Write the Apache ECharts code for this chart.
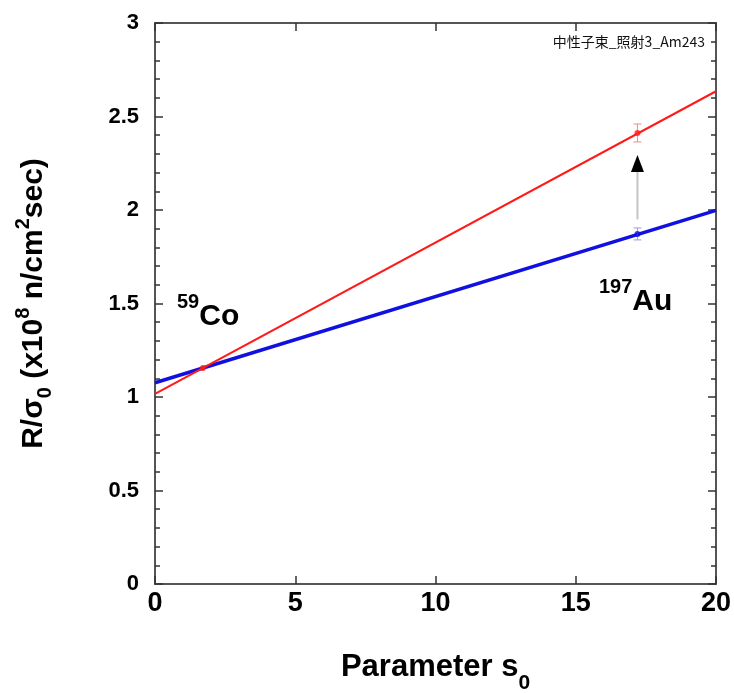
<!DOCTYPE html>
<html><head><meta charset="utf-8">
<script src="https://cdn.jsdelivr.net/npm/echarts@6/dist/echarts.min.js"></script>
<style>html,body{margin:0;padding:0;background:#fff}#c{width:734px;height:693px}</style>
</head><body><div id="c"></div>
<script>
// ---- data ----
const xRange = [0, 20];
const yRange = [0, 3];
const redLineY = [1.017, 2.635];   // red fit line at x=0 and x=20
const blueLineY = [1.076, 1.998];  // blue fit line at x=0 and x=20
const crossPoint = [1.71, 1.155];  // 59Co point
const redPoint = [17.2, 2.412];
const redErr = 0.048;
const bluePoint = [17.2, 1.872];
const blueErr = 0.032;
const arrowX = 17.2;
const arrowFromY = 1.95;
const arrowToY = 2.294;
const chartTag = '中性子束_照射3_Am243';

const FONT = '"Liberation Sans", Arial, sans-serif';
const axisLineStyle = { color: '#555', width: 2 };
const tickStyle = { color: '#333', width: 1.5 };

function errBarItem(color) {
  return function (params, api) {
    const x = api.value(0), y = api.value(1), e = api.value(2);
    const top = api.coord([x, y + e]);
    const bot = api.coord([x, y - e]);
    const s = { stroke: color, lineWidth: 1 };
    return {
      type: 'group',
      children: [
        { type: 'line', shape: { x1: top[0], y1: top[1], x2: bot[0], y2: bot[1] }, style: s },
        { type: 'line', shape: { x1: top[0] - 4, y1: top[1], x2: top[0] + 4, y2: top[1] }, style: s },
        { type: 'line', shape: { x1: bot[0] - 4, y1: bot[1], x2: bot[0] + 4, y2: bot[1] }, style: s }
      ]
    };
  };
}

const supRich = {
  m: { fontSize: 30, fontWeight: 'bold', fill: '#000', fontFamily: FONT, lineHeight: 40, verticalAlign: 'bottom' },
  p: { fontSize: 20, fontWeight: 'bold', fill: '#000', fontFamily: FONT, lineHeight: 40, verticalAlign: 'top' }
};

const chart = echarts.init(document.getElementById('c'), null, { renderer: 'canvas' });
chart.setOption({
  animation: false,
  backgroundColor: '#fff',
  textStyle: { fontFamily: FONT },
  grid: { left: 155, right: 18, top: 23, bottom: 109, containLabel: false, outerBoundsMode: 'none' },
  xAxis: [{
    type: 'value', min: xRange[0], max: xRange[1], interval: 5,
    axisLine: { show: true, onZero: false, lineStyle: axisLineStyle },
    axisTick: { show: true, inside: true, length: 8, lineStyle: tickStyle },
    splitLine: { show: false },
    axisLabel: { fontSize: 27, fontWeight: 'bold', color: '#000', margin: 6, fontFamily: FONT },
    name: '{m|Parameter s}{s|0}',
    nameLocation: 'middle', nameGap: 68,
    nameTextStyle: {
      rich: {
        m: { fontSize: 31, fontWeight: 'bold', color: '#000', fontFamily: FONT, lineHeight: 42, verticalAlign: 'top' },
        s: { fontSize: 21, fontWeight: 'bold', color: '#000', fontFamily: FONT, lineHeight: 42, verticalAlign: 'bottom' }
      }
    }
  }, {
    type: 'value', position: 'top', min: xRange[0], max: xRange[1], interval: 5,
    axisLine: { show: true, onZero: false, lineStyle: axisLineStyle },
    axisTick: { show: true, inside: true, length: 8, lineStyle: tickStyle },
    axisLabel: { show: false }, splitLine: { show: false }
  }],
  yAxis: [{
    type: 'value', min: yRange[0], max: yRange[1], interval: 0.5,
    axisLine: { show: true, onZero: false, lineStyle: axisLineStyle },
    axisTick: { show: true, inside: true, length: 8, lineStyle: tickStyle },
    minorTick: { show: true, splitNumber: 5, length: 5, lineStyle: tickStyle },
    splitLine: { show: false },
    axisLabel: { fontSize: 22, fontWeight: 'bold', color: '#000', margin: 16, fontFamily: FONT },
    name: '{m|R/σ}{s|0}{m| (x10}{p|8}{m| n/cm}{p|2}{m|sec)}',
    nameLocation: 'middle', nameGap: 100, nameRotate: 90,
    nameTextStyle: {
      rich: {
        m: { fontSize: 30, fontWeight: 'bold', color: '#000', fontFamily: FONT, lineHeight: 42, verticalAlign: 'middle' },
        s: { fontSize: 20, fontWeight: 'bold', color: '#000', fontFamily: FONT, lineHeight: 42, verticalAlign: 'bottom' },
        p: { fontSize: 20, fontWeight: 'bold', color: '#000', fontFamily: FONT, lineHeight: 42, verticalAlign: 'top' }
      }
    }
  }, {
    type: 'value', position: 'right', min: yRange[0], max: yRange[1], interval: 0.5,
    axisLine: { show: true, onZero: false, lineStyle: axisLineStyle },
    axisTick: { show: true, inside: true, length: 8, lineStyle: tickStyle },
    minorTick: { show: true, splitNumber: 5, length: 5, lineStyle: tickStyle },
    axisLabel: { show: false }, splitLine: { show: false }
  }],
  series: [
    {
      type: 'line', name: 'red', symbol: 'none', z: 3,
      data: [[xRange[0], redLineY[0]], [xRange[1], redLineY[1]]],
      lineStyle: { color: '#ff1a1a', width: 2 }
    },
    {
      type: 'line', name: 'blue', symbol: 'none', z: 2,
      data: [[xRange[0], blueLineY[0]], [xRange[1], blueLineY[1]]],
      lineStyle: { color: '#1010e0', width: 3.5 }
    },
    {
      type: 'custom', name: 'redErr', z: 4,
      renderItem: errBarItem('#f08a8a'),
      data: [[redPoint[0], redPoint[1], redErr]]
    },
    {
      type: 'custom', name: 'blueErr', z: 4,
      renderItem: errBarItem('#9a9af0'),
      data: [[bluePoint[0], bluePoint[1], blueErr]]
    },
    {
      type: 'scatter', symbol: 'circle', symbolSize: 6, z: 5,
      itemStyle: { color: '#ff1a1a' },
      data: [redPoint, crossPoint]
    },
    {
      type: 'scatter', symbol: 'circle', symbolSize: 6, z: 5,
      itemStyle: { color: '#1010e0' },
      data: [bluePoint]
    },
    {
      type: 'custom', name: 'arrow', z: 6,
      renderItem: function (params, api) {
        const x = api.value(0);
        const p0 = api.coord([x, api.value(1)]);
        const p1 = api.coord([x, api.value(2)]);
        const headH = 17, headW = 6.5;
        return {
          type: 'group',
          children: [
            { type: 'line', shape: { x1: p0[0], y1: p0[1], x2: p1[0], y2: p1[1] + headH }, style: { stroke: '#c4c4c4', lineWidth: 2 } },
            { type: 'polygon', shape: { points: [[p1[0], p1[1]], [p1[0] - headW, p1[1] + headH], [p1[0] + headW, p1[1] + headH]] }, style: { fill: '#000' } }
          ]
        };
      },
      data: [[arrowX, arrowFromY, arrowToY]]
    }
  ],
  graphic: [
    {
      type: 'text', right: 29, top: 35,
      style: { text: chartTag, fontSize: 14, fill: '#111', fontFamily: '"Noto Sans CJK JP", sans-serif' }
    },
    {
      type: 'text', left: 177, top: 292,
      style: { text: '{p|59}{m|Co}', rich: supRich }
    },
    {
      type: 'text', left: 599, top: 277,
      style: { text: '{p|197}{m|Au}', rich: supRich }
    }
  ]
});
</script>
</body></html>
